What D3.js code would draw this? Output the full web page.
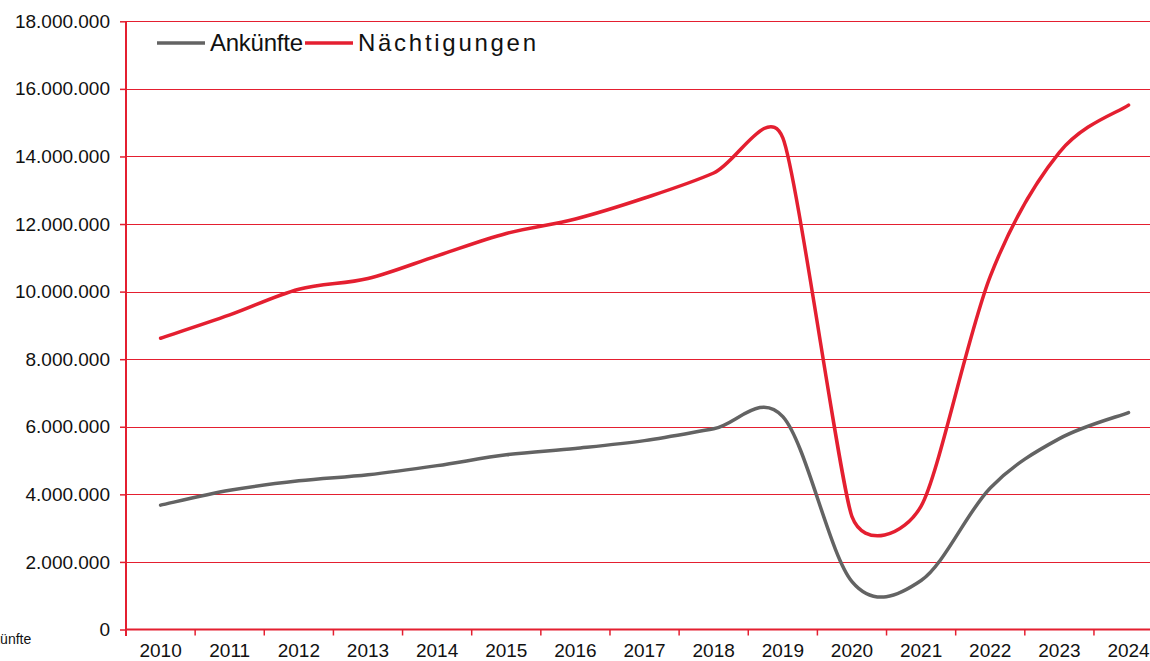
<!DOCTYPE html>
<html>
<head>
<meta charset="utf-8">
<script src="https://cdn.jsdelivr.net/npm/d3@7"></script>
<style>
  body { margin: 0; background: #fff; overflow: hidden; }
  svg { display: block; font-family: "Liberation Sans", Arial, sans-serif; }
</style>
</head>
<body>
<svg id="chart"></svg>
<script>
const years = ["2010", "2011", "2012", "2013", "2014", "2015", "2016", "2017", "2018", "2019", "2020", "2021", "2022", "2023", "2024"];
const ankuenfte = [3680000, 4120000, 4400000, 4580000, 4850000, 5170000, 5360000, 5590000, 5940000, 6300000, 1420000, 1450000, 4190000, 5650000, 6420000];
const naechtigungen = [8620000, 9310000, 10070000, 10390000, 11060000, 11720000, 12150000, 12770000, 13510000, 14550000, 3340000, 3650000, 10450000, 14120000, 15520000];
const yTicks = [0, 2000000, 4000000, 6000000, 8000000, 10000000, 12000000, 14000000, 16000000, 18000000];

const series = [
  {name: "Ankünfte", values: ankuenfte, color: "#636363"},
  {name: "Nächtigungen", values: naechtigungen, color: "#e41f30"}
];

const width = 1150;
const height = 661;
const left = 126;
const step = 69.14;
const red = "#e41f30";

const svg = d3.select("#chart")
  .attr("width", width)
  .attr("height", height);

const x = d3.scaleBand(years, [left, left + step * years.length]);
const y = d3.scaleLinear([0, 18000000], [629.5, 21.3]);

const de = d3.formatLocale({decimal: ",", thousands: ".", grouping: [3], currency: ["", " €"]});
const fmt = de.format(",d");

// gridlines
svg.append("g")
  .selectAll("line")
  .data(yTicks.filter(d => d > 0))
  .join("line")
  .attr("x1", left)
  .attr("x2", width)
  .attr("y1", d => Math.round(y(d)) + 0.5)
  .attr("y2", d => Math.round(y(d)) + 0.5)
  .attr("stroke", red)
  .attr("stroke-width", 1);

// y axis
const yAxis = svg.append("g")
  .attr("transform", `translate(${left},0)`)
  .call(d3.axisLeft(y).tickValues(yTicks).tickFormat(fmt).tickSize(6).tickPadding(10));
yAxis.select(".domain").attr("stroke", red).attr("stroke-width", 2).attr("d", `M0,${y(18000000)}V636`);
yAxis.selectAll(".tick line").attr("stroke", red).attr("stroke-width", 1.5);
yAxis.selectAll(".tick text").attr("font-size", 19).attr("fill", "#111").attr("font-family", "Liberation Sans, Arial, sans-serif");

// x axis
const xAxis = svg.append("g")
  .attr("transform", `translate(0,${y(0)})`)
  .call(d3.axisBottom(x).tickSize(0).tickPadding(11));
xAxis.select(".domain").attr("stroke", red).attr("stroke-width", 2).attr("d", `M${left},0H${width}`);
xAxis.selectAll(".tick text").attr("font-size", 19).attr("fill", "#111").attr("font-family", "Liberation Sans, Arial, sans-serif").attr("dy", "0.88em");
xAxis.append("g")
  .selectAll("line")
  .data(years)
  .join("line")
  .attr("x1", d => x(d))
  .attr("x2", d => x(d))
  .attr("y1", 0)
  .attr("y2", 6)
  .attr("stroke", red)
  .attr("stroke-width", 1.5);

// smoothed line similar to spreadsheet smoothing
function smoothPath(pts) {
  const n = pts.length;
  const ctrl = (i) => {
    const p0 = pts[Math.max(i - 1, 0)], p1 = pts[i], p2 = pts[Math.min(i + 1, n - 1)];
    const dx = p2[0] - p0[0], dy = p2[1] - p0[1];
    const d02 = Math.hypot(dx, dy);
    const d01 = Math.hypot(p1[0] - p0[0], p1[1] - p0[1]);
    const d12 = Math.hypot(p2[0] - p1[0], p2[1] - p1[1]);
    let f = 1 / 6;
    const near = Math.min(d01 || d12, d12 || d01);
    if (d02 > 0 && d02 * f > near / 2) f = near / 2 / d02;
    return [[p1[0] - dx * f, p1[1] - dy * f], [p1[0] + dx * f, p1[1] + dy * f]];
  };
  const p = d3.path();
  p.moveTo(pts[0][0], pts[0][1]);
  for (let i = 0; i < n - 1; i++) {
    const a = ctrl(i)[1], b = ctrl(i + 1)[0];
    p.bezierCurveTo(a[0], a[1], b[0], b[1], pts[i + 1][0], pts[i + 1][1]);
  }
  return p.toString();
}

series.forEach(s => {
  const pts = years.map((yr, i) => [x(yr) + x.bandwidth() / 2, y(s.values[i])]);
  svg.append("path")
    .attr("fill", "none")
    .attr("stroke", s.color)
    .attr("stroke-width", 3.5)
    .attr("stroke-linejoin", "round")
    .attr("stroke-linecap", "round")
    .attr("d", smoothPath(pts));
});

// legend
const legend = svg.append("g").attr("transform", "translate(157,43)");
const legendX = [0, 148];
const legendW = [93, 178];
series.forEach((s, i) => {
  const g = legend.append("g").attr("transform", `translate(${legendX[i]},0)`);
  g.append("line")
    .attr("x1", 0).attr("x2", 48)
    .attr("stroke", s.color).attr("stroke-width", 3.5);
  g.append("text")
    .attr("x", 53).attr("y", 8)
    .attr("font-size", 24)
    .attr("fill", "#111")
    .attr("textLength", legendW[i])
    .attr("lengthAdjust", "spacing")
    .text(s.name);
});

// clipped label at the bottom left
svg.append("text")
  .attr("x", -24)
  .attr("y", 644)
  .attr("font-size", 14)
  .attr("fill", "#111")
  .text("Ankünfte");
</script>
</body>
</html>
